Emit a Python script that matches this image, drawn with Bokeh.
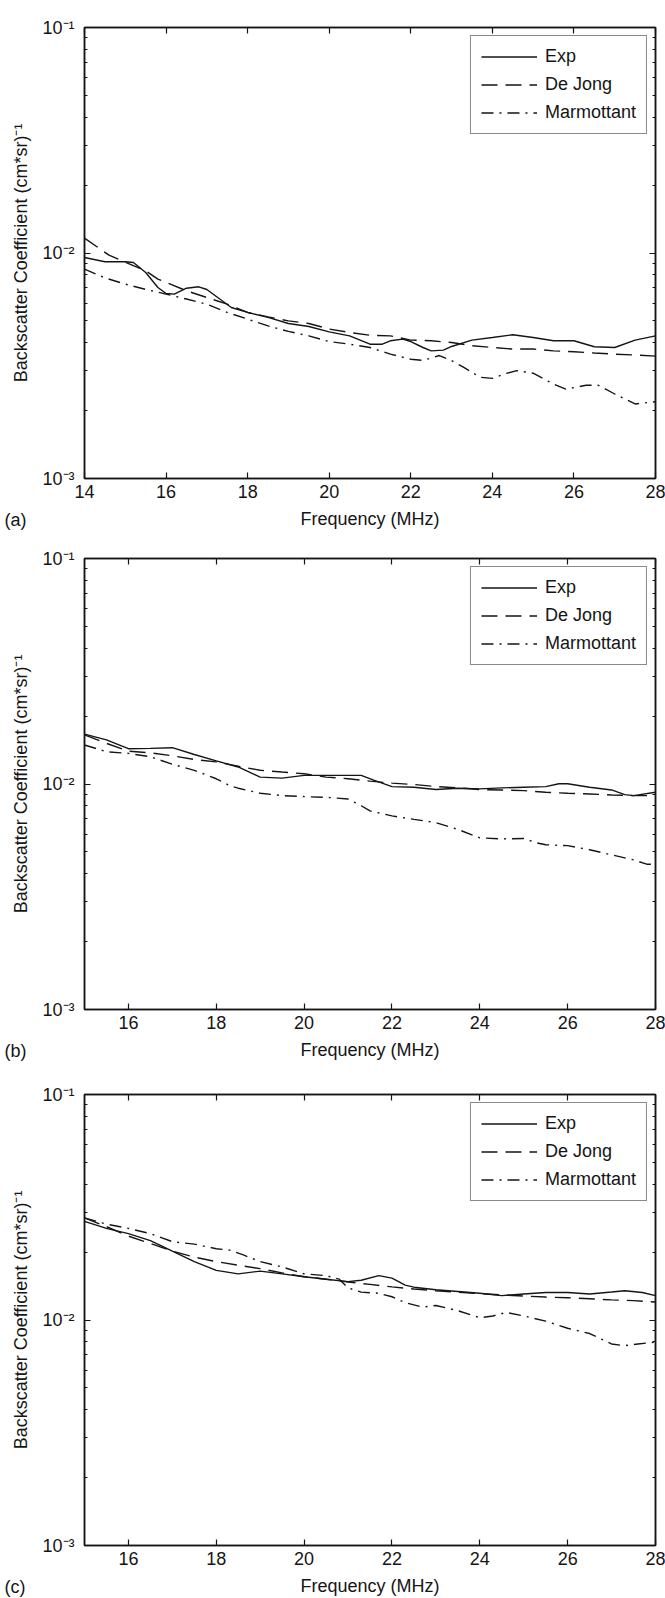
from bokeh.plotting import figure
from bokeh.models import (LinearAxis, LogAxis, FixedTicker, Title,
                          CustomJSTickFormatter, Legend, LegendItem, Range1d)
from bokeh.layouts import column
from bokeh.embed import file_html
from bokeh.resources import INLINE

# ---------------- data ----------------
a_exp_f = [14, 14.5, 15, 15.2, 15.5, 15.8, 16, 16.2, 16.5, 16.8, 17, 17.3, 17.6, 18, 18.5, 19, 19.5, 20, 20.5, 21,
           21.3, 21.5, 21.8, 22, 22.3, 22.5, 22.8, 23, 23.5, 24, 24.5, 25, 25.5, 26, 26.5, 27, 27.5, 28]
a_exp = [0.00955, 0.00914, 0.00914, 0.00908, 0.00819, 0.00703, 0.00661, 0.00657, 0.00698, 0.00708,
         0.00689, 0.00628, 0.00573, 0.00545, 0.00518, 0.00487, 0.00472, 0.00447, 0.00429, 0.00394,
         0.00394, 0.00408, 0.00415, 0.00405, 0.00381, 0.00368, 0.00371, 0.00385, 0.00411, 0.00422,
         0.00434, 0.00422, 0.00408, 0.00408, 0.00384, 0.00381, 0.00411, 0.00429]
a_dj_f = [14, 14.6, 15.5, 15.8, 16.5, 17, 17.5, 18, 18.5, 19, 19.5, 20, 20.5, 21, 21.5, 22, 22.5, 23, 23.5, 24,
          24.5, 25, 25.5, 26, 26.5, 27, 27.5, 28]
a_dj = [0.01164, 0.00978, 0.00834, 0.00766, 0.00680, 0.00635, 0.00593, 0.00545, 0.00521, 0.00500,
        0.00487, 0.00460, 0.00444, 0.00432, 0.00429, 0.00411, 0.00408, 0.00401, 0.00388, 0.00381,
        0.00375, 0.00375, 0.00368, 0.00365, 0.00360, 0.00356, 0.00353, 0.00349]
a_mm_f = [14, 14.5, 15, 15.5, 16, 16.5, 17, 17.5, 18, 18.5, 19, 19.5, 20, 20.5, 21, 21.5, 22, 22.3, 22.7, 23,
          23.3, 23.7, 24, 24.3, 24.6, 25, 25.5, 25.8, 26.3, 26.6, 27, 27.5, 28]
a_mm = [0.00848, 0.00776, 0.00728, 0.00690, 0.00657, 0.00625, 0.00593, 0.00545, 0.00509, 0.00475,
        0.00449, 0.00429, 0.00405, 0.00394, 0.00381, 0.00356, 0.00338, 0.00334, 0.00351, 0.00333,
        0.00311, 0.00281, 0.00278, 0.00291, 0.00301, 0.00293, 0.00262, 0.00249, 0.00259, 0.00259,
        0.00237, 0.00214, 0.00219]

b_exp_f = [15, 15.5, 16, 16.5, 17, 17.5, 18, 18.5, 19, 19.5, 20, 20.5, 21, 21.3, 21.6, 22, 22.5, 23, 23.5, 24,
           24.5, 25, 25.5, 25.8, 26, 26.5, 27, 27.3, 27.5, 28]
b_exp = [0.01663, 0.01569, 0.01434, 0.01439, 0.01449, 0.01352, 0.01267, 0.01190, 0.01073, 0.01062,
         0.01092, 0.01092, 0.01092, 0.01092, 0.01037, 0.00974, 0.00968, 0.00945, 0.00958, 0.00951,
         0.00961, 0.00968, 0.00974, 0.01002, 0.01002, 0.00968, 0.00941, 0.00897, 0.00888, 0.00919]
b_dj_f = [15, 15.5, 16, 16.5, 17, 17.5, 18, 18.5, 19, 19.5, 20, 20.5, 21, 21.5, 22, 22.5, 23, 23.5, 24, 24.5,
          25, 25.5, 26, 26.5, 27, 27.5, 28]
b_dj = [0.01652, 0.01515, 0.01399, 0.01375, 0.01334, 0.01284, 0.01253, 0.01199, 0.01150, 0.01130,
        0.01111, 0.01073, 0.01055, 0.01030, 0.01009, 0.00995, 0.00974, 0.00961, 0.00945, 0.00941,
        0.00935, 0.00919, 0.00910, 0.00903, 0.00894, 0.00888, 0.00888]
b_mm_f = [15, 15.5, 16, 16.5, 17, 17.5, 18, 18.3, 18.5, 19, 19.5, 20, 20.5, 21, 21.3, 21.5, 22, 22.5, 23, 23.5,
          24, 24.5, 25, 25.3, 25.5, 26, 26.5, 27, 27.5, 27.8, 28]
b_mm = [0.01489, 0.01390, 0.01367, 0.01320, 0.01224, 0.01150, 0.01055, 0.00985, 0.00958, 0.00910,
        0.00888, 0.00879, 0.00873, 0.00858, 0.00801, 0.00760, 0.00722, 0.00697, 0.00674, 0.00629,
        0.00577, 0.00571, 0.00573, 0.00548, 0.00538, 0.00533, 0.00511, 0.00485, 0.00461, 0.00441,
        0.00441]

c_exp_f = [15, 15.5, 16, 16.5, 17, 17.5, 18, 18.5, 19, 19.5, 20, 20.5, 21, 21.3, 21.7, 22, 22.3, 22.5, 23, 23.5,
           24, 24.5, 25, 25.5, 26, 26.5, 27, 27.3, 27.7, 28]
c_exp = [0.02739, 0.02549, 0.02415, 0.02249, 0.02020, 0.01815, 0.01659, 0.01601, 0.01647, 0.01601,
         0.01556, 0.01517, 0.01479, 0.01500, 0.01573, 0.01534, 0.01428, 0.01398, 0.01362, 0.01338,
         0.01314, 0.01282, 0.01305, 0.01324, 0.01324, 0.01305, 0.01330, 0.01348, 0.01324, 0.01282]
c_dj_f = [15, 15.5, 16, 16.5, 17, 17.5, 18, 18.5, 19, 19.5, 20, 20.5, 21, 21.5, 22, 22.5, 23, 23.5, 24, 24.5,
          25, 25.5, 26, 26.5, 27, 27.5, 28]
c_dj = [0.02838, 0.02595, 0.02356, 0.02185, 0.02020, 0.01901, 0.01815, 0.01750, 0.01689, 0.01618,
        0.01556, 0.01517, 0.01474, 0.01438, 0.01402, 0.01373, 0.01348, 0.01329, 0.01310, 0.01292,
        0.01278, 0.01264, 0.01255, 0.01242, 0.01228, 0.01219, 0.01202]
c_mm_f = [15, 15.5, 16, 16.5, 17, 17.5, 18, 18.3, 18.6, 19, 19.5, 20, 20.5, 20.8, 21, 21.3, 21.7, 22, 22.3, 22.7,
          23, 23.5, 24, 24.3, 24.6, 25, 25.5, 26, 26.5, 27, 27.3, 27.6, 28]
c_mm = [0.02838, 0.02661, 0.02549, 0.02415, 0.02225, 0.02170, 0.02071, 0.02042, 0.01949, 0.01815,
        0.01719, 0.01601, 0.01573, 0.01517, 0.01388, 0.01329, 0.01314, 0.01268, 0.01194, 0.01140,
        0.01160, 0.01100, 0.01023, 0.01042, 0.01080, 0.01042, 0.00988, 0.00919, 0.00871, 0.00783,
        0.00769, 0.00783, 0.00797]

x_ticks_a = [14, 16, 18, 20, 22, 24, 26, 28]
x_ticks_bc = [16, 18, 20, 22, 24, 26, 28]
y_major = [0.001, 0.01, 0.1]
y_minor = [0.002, 0.003, 0.004, 0.005, 0.006, 0.007, 0.008, 0.009,
           0.02, 0.03, 0.04, 0.05, 0.06, 0.07, 0.08, 0.09]
series_names = ["Exp", "De Jong", "Marmottant"]
x_label = "Frequency (MHz)"
y_label = "Backscatter Coefficient (cm*sr)\u207b\u00b9"

FONT = "Liberation Sans"
INK = "#151515"
DASHES = ["solid", "16 8", "12 6 2 6"]

SUP_JS = """
const sup = {"-": "\\u207b", "0": "\\u2070", "1": "\\u00b9", "2": "\\u00b2", "3": "\\u00b3",
             "4": "\\u2074", "5": "\\u2075", "6": "\\u2076", "7": "\\u2077", "8": "\\u2078", "9": "\\u2079"};
const e = Math.round(Math.log10(tick));
return "10" + String(e).split("").map(c => sup[c]).join("");
"""


def style_axis(ax, minor=True):
    ax.axis_line_color = INK
    ax.axis_line_width = 1.5
    ax.major_tick_line_color = INK
    ax.major_tick_line_width = 1.2
    ax.major_tick_in = 6
    ax.major_tick_out = 0
    if minor:
        ax.minor_tick_line_color = INK
        ax.minor_tick_in = 3
        ax.minor_tick_out = 0
    else:
        ax.minor_tick_line_color = None
    ax.major_label_text_font = FONT
    ax.major_label_text_color = INK
    ax.axis_label_text_font = FONT
    ax.axis_label_text_font_style = "normal"
    ax.axis_label_text_color = INK


def make_panel(tag, xmin, xticks, data, bottom_border):
    p = figure(x_range=Range1d(xmin, 28), y_range=Range1d(1e-3, 1e-1), y_axis_type="log",
               frame_width=571, frame_height=451,
               min_border_left=84, min_border_right=10, min_border_top=27,
               min_border_bottom=bottom_border,
               output_backend="svg", toolbar_location=None,
               background_fill_color="white", border_fill_color="white")
    p.grid.visible = False
    p.outline_line_color = INK
    p.outline_line_width = 1.5

    xa = p.xaxis[0]
    xa.ticker = FixedTicker(ticks=xticks)
    style_axis(xa, minor=False)
    xa.major_label_text_font_size = "18px"
    xa.major_label_standoff = 6
    xa.axis_label = x_label
    xa.axis_label_text_font_size = "18px"
    xa.axis_label_standoff = 8

    ya = p.yaxis[0]
    ya.ticker = FixedTicker(ticks=y_major, minor_ticks=y_minor)
    ya.formatter = CustomJSTickFormatter(code=SUP_JS)
    style_axis(ya)
    ya.major_label_text_font_size = "18px"
    ya.major_label_standoff = 10
    ya.axis_label = y_label
    ya.axis_label_text_font_size = "18px"
    ya.axis_label_standoff = 8

    top = LinearAxis(ticker=FixedTicker(ticks=xticks),
                     formatter=CustomJSTickFormatter(code="return '';"))
    style_axis(top, minor=False)
    top.major_label_text_font_size = "1px"
    top.major_label_standoff = 0
    p.add_layout(top, "above")

    right = LogAxis(ticker=FixedTicker(ticks=y_major, minor_ticks=y_minor),
                    formatter=CustomJSTickFormatter(code="return '';"))
    style_axis(right)
    right.major_label_text_font_size = "1px"
    right.major_label_standoff = 0
    p.add_layout(right, "right")

    items = []
    for (fx, fy), name, dash in zip(data, series_names, DASHES):
        r = p.line(fx, fy, line_color=INK, line_width=1.4, line_dash=dash)
        items.append(LegendItem(label=name, renderers=[r]))

    leg = Legend(items=items, location="top_right")
    leg.margin = 8
    leg.padding = 10
    leg.spacing = 7
    leg.glyph_width = 56
    leg.glyph_height = 19
    leg.label_height = 19
    leg.label_standoff = 8
    leg.label_text_font = FONT
    leg.label_text_font_size = "18px"
    leg.label_text_color = INK
    leg.border_line_color = INK
    leg.border_line_width = 1.4
    leg.background_fill_color = "white"
    leg.background_fill_alpha = 1.0
    p.add_layout(leg)

    # panel tag: a left-aligned title below the x axis, pulled up level with the axis label
    t = Title(text=tag, align="left", vertical_align="top", offset=-80, standoff=-43,
              text_font=FONT, text_font_size="18px", text_font_style="normal", text_color=INK)
    p.add_layout(t, "below")
    return p


pa = make_panel("(a)", 14, x_ticks_a, [(a_exp_f, a_exp), (a_dj_f, a_dj), (a_mm_f, a_mm)], 53)
pb = make_panel("(b)", 15, x_ticks_bc, [(b_exp_f, b_exp), (b_dj_f, b_dj), (b_mm_f, b_mm)], 58)
pc = make_panel("(c)", 15, x_ticks_bc, [(c_exp_f, c_exp), (c_dj_f, c_dj), (c_mm_f, c_mm)], 53)

layout = column(pa, pb, pc, spacing=0)
open("out.html", "w").write(file_html(layout, INLINE))
